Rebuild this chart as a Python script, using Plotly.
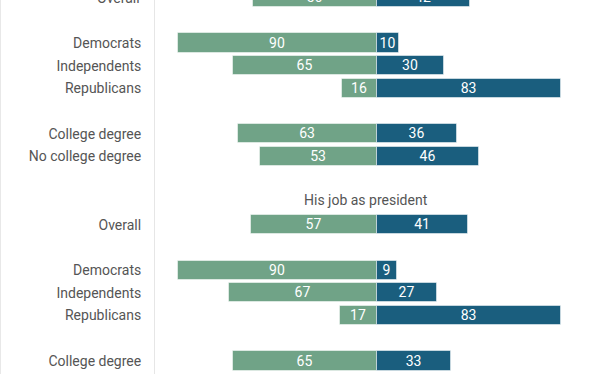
import plotly.graph_objects as go

# ---- data ----
# Section 1 (title cut off above the visible area)
s1_labels = ["Overall", "Democrats", "Independents", "Republicans", "College degree", "No college degree"]
s1_disapprove = [56, 90, 65, 16, 63, 53]
s1_approve = [42, 10, 30, 83, 36, 46]

# Section 2
s2_title = "His job as president"
s2_labels = ["Overall", "Democrats", "Independents", "Republicans", "College degree"]
s2_disapprove = [57, 90, 67, 17, 65]
s2_approve = [41, 9, 27, 83, 33]

# grouping of rows inside a section (sizes of consecutive groups)
group_sizes = [1, 3, 2]

GREEN = "#70a387"
BLUE = "#1a5e7e"
LABEL = "#555555"

# ---- row positions (row units) ----
def section_rows(start, n):
    rows = []
    k = start
    gi = 0
    left = group_sizes[0]
    for i in range(n):
        rows.append(k)
        k += 1
        left -= 1
        if left == 0 and gi + 1 < len(group_sizes):
            gi += 1
            left = group_sizes[gi]
            k += 1
    return rows

rows1 = section_rows(0, len(s1_labels))
title2_row = rows1[-1] + 2
rows2 = section_rows(title2_row + 1, len(s2_labels))

ys = rows1 + rows2
labels = s1_labels + s2_labels
dis = s1_disapprove + s2_disapprove
app = s1_approve + s2_approve

fig = go.Figure()
fig.add_trace(go.Bar(
    y=ys, x=[-v for v in dis], orientation="h", name="Disapprove",
    marker=dict(color=GREEN, line=dict(color="rgba(255,255,255,0.5)", width=1)),
    text=[str(v) for v in dis], textposition="inside", insidetextanchor="middle",
    textangle=0, textfont=dict(color="white", size=14, family="Roboto"),
    width=0.84, hoverinfo="skip",
))
fig.add_trace(go.Bar(
    y=ys, x=app, orientation="h", name="Approve",
    marker=dict(color=BLUE, line=dict(color="rgba(255,255,255,0.5)", width=1)),
    text=[str(v) for v in app], textposition="inside", insidetextanchor="middle",
    textangle=0, textfont=dict(color="white", size=14, family="Roboto"),
    width=0.84, hoverinfo="skip",
))

px_per_row = 22.71
top_offset = -2.4  # pixel position of first row centre
H = 374
y_top = (0 - top_offset) / px_per_row
y_bot = (H - top_offset) / px_per_row

fig.update_layout(
    width=612, height=H,
    margin=dict(l=155, r=0, t=0, b=0),
    paper_bgcolor="white", plot_bgcolor="white",
    barmode="relative", bargap=0,
    showlegend=False,
    font=dict(family="Roboto", size=14, color=LABEL),
    uniformtext=dict(minsize=14, mode="show"),
    xaxis=dict(range=[-100.2, 105.8], visible=False, fixedrange=True),
    yaxis=dict(
        range=[y_bot, y_top], tickmode="array", tickvals=ys, ticktext=labels,
        showgrid=False, zeroline=False, showline=True, linecolor="#e6e6e6", linewidth=1,
        ticks="", ticklabelstandoff=10, tickfont=dict(size=14, color=LABEL, family="Roboto"),
        fixedrange=True,
    ),
    annotations=[
        dict(
            text=s2_title, xref="paper", x=0.462, yref="y", y=title2_row, yshift=2,
            showarrow=False, xanchor="center", yanchor="middle",
            font=dict(size=14, color=LABEL, family="Roboto"),
        ),
        # first row label sits partly above the visible area, so its tick is not drawn
        dict(
            text=s1_labels[0], xref="paper", x=0, xshift=-13, yref="paper", y=1,
            yshift=-top_offset, showarrow=False, xanchor="right", yanchor="middle",
            font=dict(size=14, color=LABEL, family="Roboto"),
        ),
    ],
    shapes=[dict(type="line", xref="paper", yref="paper", x0=-154.5 / 457, x1=-154.5 / 457,
                 y0=0, y1=1, line=dict(color="#e8e8e8", width=1))],
)

fig.write_html(
    "out.html",
    config={"displayModeBar": False},
    post_script="document.body.style.margin='0';document.body.style.overflow='hidden';",
)
